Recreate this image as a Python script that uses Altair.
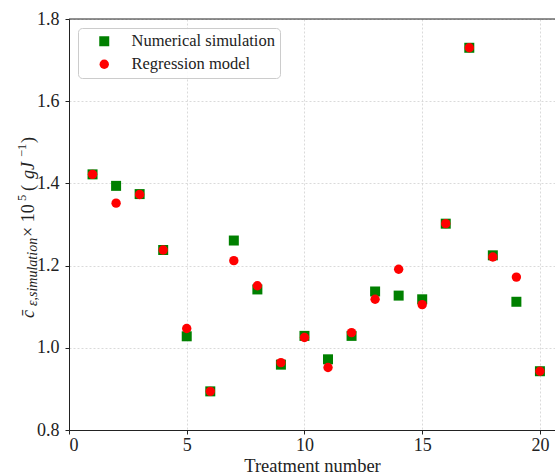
import altair as alt
import pandas as pd

# Treatment numbers and the two series of mean specific energy values
treatment = list(range(1, 21))
numerical = [1.422, 1.394, 1.374, 1.238, 1.028, 0.894, 1.261, 1.142, 0.959, 1.029,
             0.972, 1.029, 1.137, 1.127, 1.118, 1.302, 1.730, 1.225, 1.112, 0.943]
regression = [1.422, 1.352, 1.373, 1.238, 1.047, 0.894, 1.212, 1.151, 0.964, 1.025,
              0.952, 1.037, 1.118, 1.191, 1.105, 1.302, 1.730, 1.221, 1.172, 0.943]
series_names = ["Numerical simulation", "Regression model"]
x_ticks = [0, 5, 10, 15, 20]
y_ticks = [0.8, 1.0, 1.2, 1.4, 1.6, 1.8]

rows = []
for name, vals in zip(series_names, [numerical, regression]):
    for t, v in zip(treatment, vals):
        rows.append({"treatment": t, "value": v, "series": name})
df = pd.DataFrame(rows)

W, H = 486, 411
LEFT, TOP = 69, 19
SERIF = "Liberation Serif, Times New Roman, Times, serif"
INK = "#222222"
one = pd.DataFrame({"k": [0]})

points = alt.Chart(df).mark_point(filled=True, opacity=1, strokeWidth=0).encode(
    x=alt.X("treatment:Q",
            scale=alt.Scale(domain=[0, 20.64], nice=False, zero=False),
            axis=alt.Axis(values=x_ticks, title="Treatment number", labelPadding=2,
                          titleBaseline="alphabetic", titleY=41)),
    y=alt.Y("value:Q",
            scale=alt.Scale(domain=[0.8, 1.8], nice=False, zero=False),
            axis=alt.Axis(values=y_ticks, format=".1f", title=None, labelPadding=6)),
    color=alt.Color("series:N",
                    scale=alt.Scale(domain=series_names, range=["#008000", "#ff0000"]),
                    legend=alt.Legend(title=None)),
    shape=alt.Shape("series:N",
                    scale=alt.Scale(domain=series_names, range=["square", "circle"]),
                    legend=alt.Legend(title=None)),
    size=alt.Size("series:N",
                  scale=alt.Scale(domain=series_names, range=[100, 88]),
                  legend=None),
)

# top spine
top_spine = alt.Chart(one).mark_rule(color=INK, strokeWidth=1).encode(
    x=alt.value(0), x2=alt.value(W), y=alt.value(0)
)


def piece(text, y_start, base_x, size, italic=False):
    return alt.Chart(one).mark_text(
        text=text, angle=270, align="left", baseline="alphabetic",
        font=SERIF, fontSize=size, fontStyle="italic" if italic else "normal",
        color=INK,
    ).encode(x=alt.value(base_x - LEFT), y=alt.value(y_start - TOP))


# rotated y-axis title: c̄_{ε,simulation} × 10^5 (gJ^-1)
ylabel = [
    piece("c\u0304", 318, 33.5, 18, italic=True),
    piece("\u03b5,simulation", 306, 37, 14, italic=True),
    piece("\u00d7 10", 237, 33.5, 18),
    piece("5", 201, 26, 12.6),
    piece("(", 191, 33.5, 18),
    piece("gJ", 179, 33.5, 18, italic=True),
    piece("\u22121", 157, 26, 12.6),
    piece(")", 143, 33.5, 18),
]

chart = alt.layer(points, top_spine, *ylabel).properties(
    width=W, height=H,
    autosize=alt.AutoSizeParams(type="none"),
    padding={"left": LEFT, "top": TOP, "right": 0, "bottom": 475 - TOP - H},
).configure_view(
    stroke=None
).configure_axis(
    labelFont=SERIF, labelFontSize=18, labelColor=INK,
    titleFont=SERIF, titleFontSize=18.5, titleFontWeight="normal", titleColor=INK,
    domainColor=INK, domainWidth=1, tickColor=INK, tickSize=4, tickWidth=1,
    gridColor="#d0d0d0", gridDash=[2, 2], gridWidth=0.8,
).configure_legend(
    orient="none", legendX=9, legendY=9,
    labelFont=SERIF, labelFontSize=16.5, labelColor=INK,
    padding=5, symbolOffset=13, labelOffset=19, rowPadding=6,
    symbolSize=100, symbolStrokeWidth=0,
    strokeColor="#cccccc", cornerRadius=4, fillColor="rgba(255,255,255,0.85)",
)

chart.save("out.html", embed_options={"renderer": "svg", "actions": False})
